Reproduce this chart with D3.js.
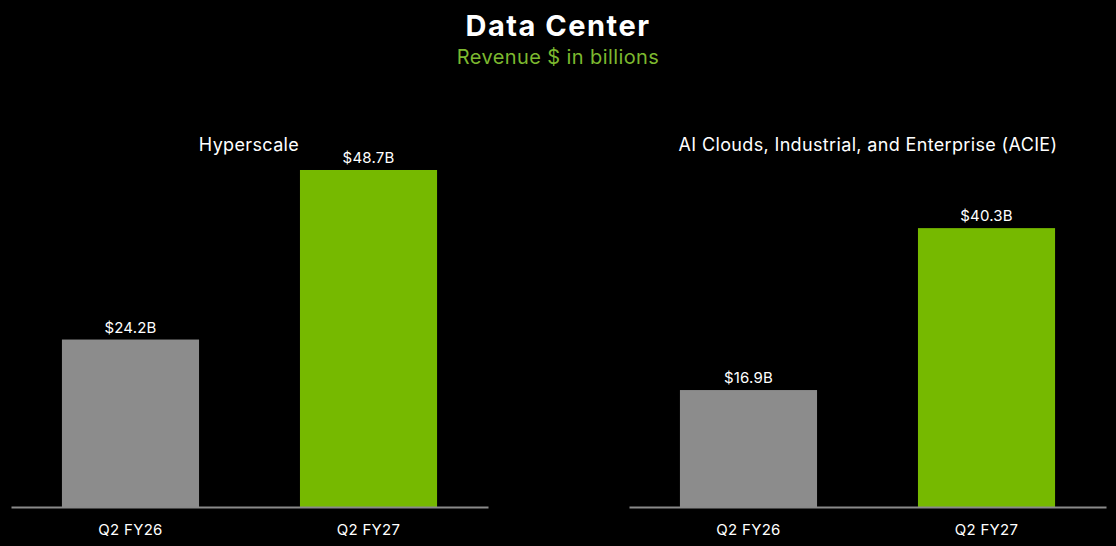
<!DOCTYPE html>
<html>
<head>
<meta charset="utf-8">
<script src="https://cdn.jsdelivr.net/npm/d3@7"></script>
<style>
  html, body { margin: 0; padding: 0; background: #000; }
  svg { display: block; font-family: Inter, "Noto Sans", sans-serif; }
</style>
</head>
<body>
<div id="chart"></div>
<script>
// Data Center revenue, two panels
const quarters = ["Q2 FY26", "Q2 FY27"];
const panelTitles = ["Hyperscale", "AI Clouds, Industrial, and Enterprise (ACIE)"];
const hyperscale = [24.2, 48.7];
const acie = [16.9, 40.3];

const width = 1116, height = 546;
const baseY = 507;
const colors = ["#8c8c8c", "#76b900"];

const svg = d3.select("#chart").append("svg")
  .attr("width", width)
  .attr("height", height);

svg.append("rect").attr("width", width).attr("height", height).attr("fill", "#000");

svg.append("text")
  .attr("x", 558).attr("y", 36)
  .attr("text-anchor", "middle")
  .attr("fill", "#fff")
  .attr("font-size", 29)
  .attr("font-weight", 700)
  .attr("letter-spacing", 1.5)
  .text("Data Center");

svg.append("text")
  .attr("x", 558).attr("y", 64)
  .attr("text-anchor", "middle")
  .attr("fill", "#7cb82f")
  .attr("font-size", 20)
  .attr("letter-spacing", 0.4)
  .text("Revenue $ in billions");

// same value scale for both panels
const y = d3.scaleLinear().domain([0, 50]).range([baseY, baseY - 346]);

const panels = [
  {title: panelTitles[0], values: hyperscale, x0: 11, x1: 488, titleX: 249},
  {title: panelTitles[1], values: acie, x0: 629, x1: 1106, titleX: 868}
];

panels.forEach(p => {
  const x = d3.scaleBand()
    .domain(quarters)
    .range([p.x0, p.x1])
    .paddingInner(0.424)
    .paddingOuter(0.214);

  const data = quarters.map((q, i) => ({q, v: p.values[i], i}));
  const g = svg.append("g");

  g.append("text")
    .attr("x", p.titleX).attr("y", 151)
    .attr("text-anchor", "middle")
    .attr("fill", "#fff")
    .attr("font-size", 18)
    .attr("letter-spacing", 0.35)
    .text(p.title);

  g.selectAll("rect.bar")
    .data(data)
    .join("rect")
    .attr("class", "bar")
    .attr("x", d => x(d.q))
    .attr("y", d => y(d.v))
    .attr("width", x.bandwidth())
    .attr("height", d => baseY - y(d.v))
    .attr("fill", d => colors[d.i]);

  g.selectAll("text.val")
    .data(data)
    .join("text")
    .attr("class", "val")
    .attr("x", d => x(d.q) + x.bandwidth() / 2)
    .attr("y", d => y(d.v) - 7)
    .attr("text-anchor", "middle")
    .attr("fill", "#fff")
    .attr("font-size", 15)
    .attr("letter-spacing", 0.2)
    .text(d => `$${d.v.toFixed(1)}B`);

  const axis = g.append("g")
    .attr("transform", `translate(0,${baseY})`)
    .call(d3.axisBottom(x).tickSize(0).tickPadding(17));
  axis.select(".domain")
    .attr("stroke", "#8a8a8a")
    .attr("stroke-width", 2);
  axis.selectAll(".tick text")
    .attr("fill", "#fff")
    .attr("font-size", 15)
    .attr("letter-spacing", 0.3)
    .attr("font-family", "Inter, 'Noto Sans', sans-serif");
});
</script>
</body>
</html>
